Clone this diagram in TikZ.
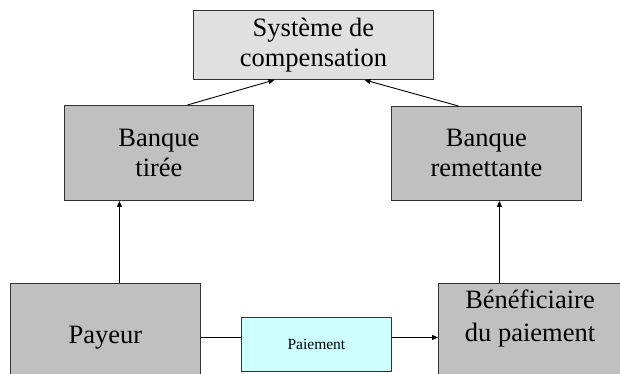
\documentclass[tikz,border=0pt]{standalone}
\usepackage{fontspec}
\setmainfont{Liberation Serif}
\usetikzlibrary{arrows.meta}
\definecolor{boxgray}{RGB}{192,192,192}
\definecolor{sysgray}{RGB}{224,224,224}
\definecolor{paycyan}{RGB}{204,255,255}
\tikzset{
  box/.style={draw=black!80, line width=0.9pt, fill=boxgray, rectangle, inner sep=0pt, anchor=north west, align=center, font=\fontsize{26.5}{30}\selectfont},
  bigtxt/.style={align=center, inner sep=0pt, font=\fontsize{26.5}{33}\selectfont},
  conn/.style={draw=black, line width=0.9pt},
  arr/.style={conn, -{Triangle[length=6pt,width=5pt]}}
}
\begin{document}
\begin{tikzpicture}[x=1pt,y=-1pt]
\useasboundingbox (0,0) rectangle (620,374);
\clip (0,0) rectangle (620,374);
\node[box, fill=sysgray, minimum width=240pt, minimum height=69pt] (sys) at (193,10) {Système de\\compensation};
\node[box, minimum width=189pt, minimum height=95pt] (tiree) at (64,105) {Banque\\tirée};
\node[box, minimum width=190pt, minimum height=94pt] (remet) at (391,106) {Banque\\remettante};
\node[box, minimum width=190pt, minimum height=108pt] (payeur) at (10,283) {Payeur};
\node[box, minimum width=202pt, minimum height=108pt] (ben) at (438,283) {};
\node[bigtxt] (bentxt) at (530,318) {Bénéficiaire\\du paiement};
\node[box, fill=paycyan, minimum width=150pt, minimum height=54pt, font=\fontsize{15.5}{18}\selectfont] (paie) at (241,317) {Paiement};
\draw[arr] ([xshift=28.5pt]tiree.north) -- ([xshift=-39pt]sys.south);
\draw[arr] ([xshift=-28pt]remet.north) -- ([xshift=51pt]sys.south);
\draw[arr] ([xshift=14pt]payeur.north) -- ([xshift=14pt]payeur.north |- tiree.south);
\draw[arr] ([xshift=-40pt]ben.north) -- ([xshift=-40pt]ben.north |- remet.south);
\draw[conn] (payeur.east) -- (payeur.east -| paie.west);
\draw[arr] (paie.east |- ben.west) -- (ben.west);
\end{tikzpicture}
\end{document}
